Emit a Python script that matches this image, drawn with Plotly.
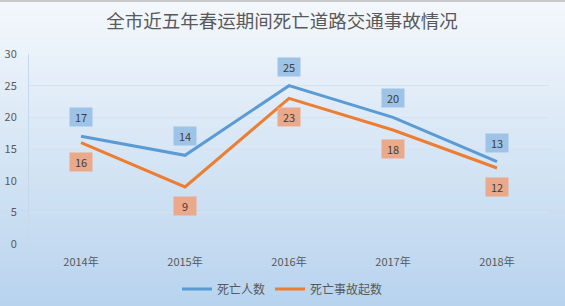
import plotly.graph_objects as go

categories = ["2014年", "2015年", "2016年", "2017年", "2018年"]
deaths = [17, 14, 25, 20, 13]
accidents = [16, 9, 23, 18, 12]
series_names = ["死亡人数", "死亡事故起数"]
title_text = "全市近五年春运期间死亡道路交通事故情况"

W, H = 565, 306
L, R, T, B = 29, 16, 54, 62
FONT = "Noto Sans CJK SC"

fig = go.Figure()
fig.add_trace(go.Scatter(x=categories, y=deaths, mode="lines", name=series_names[0],
                         line=dict(color="#5b9bd5", width=3)))
fig.add_trace(go.Scatter(x=categories, y=accidents, mode="lines", name=series_names[1],
                         line=dict(color="#ed7d31", width=3)))

# data labels
for c, v in zip(categories, deaths):
    fig.add_annotation(x=c, y=v, text=str(v), showarrow=False, yshift=19,
                       bgcolor="#9dc3e6", font=dict(size=11, color="#404040", family=FONT),
                       width=20, height=16, borderpad=1)
for c, v in zip(categories, accidents):
    fig.add_annotation(x=c, y=v, text=str(v), showarrow=False, yshift=-19,
                       bgcolor="#eaa98a", font=dict(size=11, color="#404040", family=FONT),
                       width=20, height=16, borderpad=1)

# gradient background
pw = W - L - R
ph = H - T - B
def px_to_paper_y(py):
    return (H - B - py) / ph
x0 = -L / pw - 0.01
x1 = 1 + R / pw + 0.01
top_c = (244, 248, 252)
bot_c = (184, 211, 238)
n = 60
shapes = []
for i in range(n):
    f = (i + 0.5) / n
    col = tuple(round(top_c[k] + (bot_c[k] - top_c[k]) * f) for k in range(3))
    py0 = H * i / n
    py1 = H * (i + 1) / n + 0.6
    shapes.append(dict(type="rect", xref="paper", yref="paper", layer="below",
                       x0=x0, x1=x1, y0=px_to_paper_y(py1), y1=px_to_paper_y(py0),
                       line=dict(width=0), fillcolor="rgb(%d,%d,%d)" % col))
shapes.append(dict(type="line", xref="paper", yref="paper", layer="above",
                   x0=x0, x1=x1, y0=px_to_paper_y(1), y1=px_to_paper_y(1),
                   line=dict(width=1, color="#9a9a9a")))

fig.update_layout(
    width=W, height=H,
    margin=dict(l=L, r=R, t=T, b=B, autoexpand=False),
    paper_bgcolor="#e8eff8", plot_bgcolor="rgba(0,0,0,0)",
    shapes=shapes,
    title=dict(text=title_text, x=282 / W, xref="container", xanchor="center",
               y=1 - 22 / H, yref="container", yanchor="middle",
               font=dict(size=18.5, color="#595959", family=FONT)),
    font=dict(family=FONT, color="#595959"),
    showlegend=True,
    legend=dict(orientation="h", x=282.5 / W, xref="container", xanchor="center",
                y=1 - 289 / H, yref="container", yanchor="middle",
                font=dict(size=12, color="#595959", family=FONT),
                bgcolor="rgba(0,0,0,0)", itemwidth=30, tracegroupgap=0),
    xaxis=dict(showgrid=False, showline=False, zeroline=False, ticks="",
               range=[-0.5, 4.5], ticklabelstandoff=10, automargin=False,
               tickfont=dict(size=11, color="#595959", family=FONT)),
    yaxis=dict(range=[0, 30], dtick=5, showgrid=True, gridcolor="#d8e2ed", gridwidth=1,
               zeroline=False, showline=True, linecolor="#c6d8ec", ticks="",
               ticklabelstandoff=9, automargin=False,
               tickfont=dict(size=11, color="#595959", family=FONT)),
)

fig.write_html("out.html")
